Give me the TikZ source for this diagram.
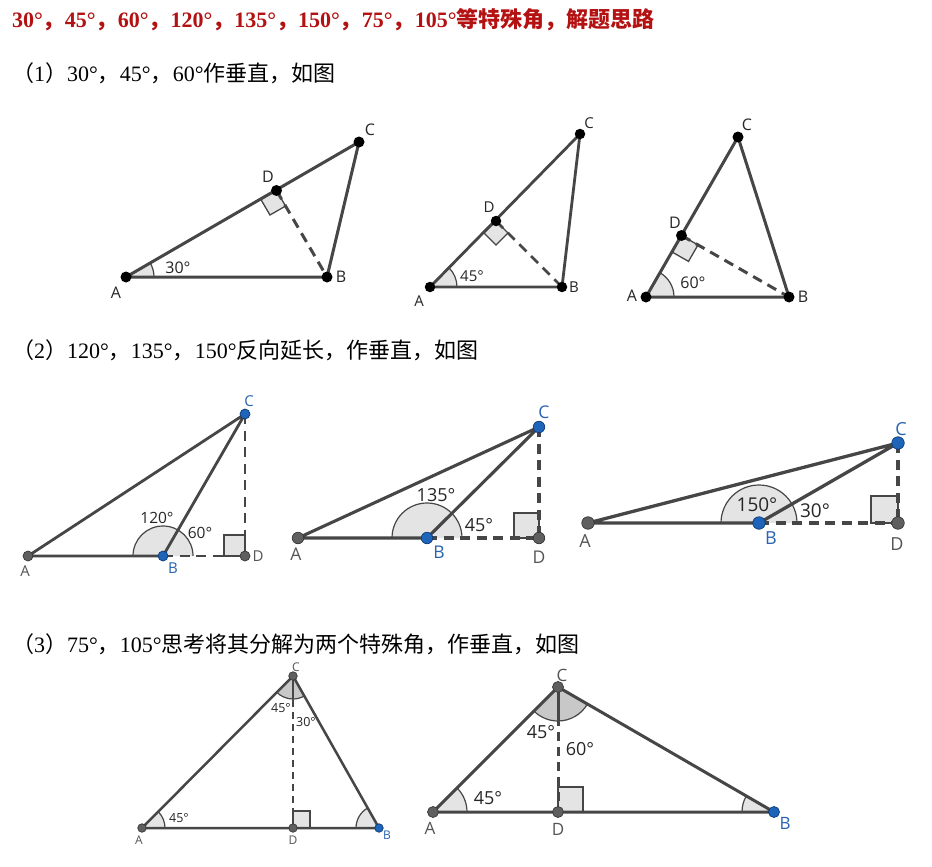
\documentclass[tikz,border=0pt]{standalone}
\usepackage{fontspec}
\setmainfont{Liberation Serif}
\newfontfamily\cjk{Noto Sans CJK SC}
\newfontfamily\labfont{Open Sans}
\usetikzlibrary{angles,calc}
\definecolor{ln}{RGB}{70,70,70}
\definecolor{afill}{RGB}{228,228,228}
\definecolor{afillc}{RGB}{200,200,200}
\definecolor{ptblue}{RGB}{30,100,185}
\definecolor{ptbluedk}{RGB}{15,60,120}
\definecolor{ptgray}{RGB}{95,95,95}
\definecolor{ptgraydk}{RGB}{55,55,55}
\definecolor{labgray}{RGB}{85,85,85}
\definecolor{labblue}{RGB}{40,100,175}
\definecolor{ttlred}{RGB}{180,18,18}
\newcommand\zh[1]{{\cjk #1}}
\newcommand\rsq[5]{%
  \coordinate (#1-u) at ($(#1)!#4!(#2)$);
  \coordinate (#1-v) at ($(#1)!#4!(#3)$);
  \draw[sq, line width=#5] (#1) -- (#1-u) -- ($(#1-u)+(#1-v)-(#1)$) -- (#1-v) -- cycle;}
\begin{document}
\begin{tikzpicture}[x=1pt, y=-1pt,
  seg/.style={draw=ln, line width=#1, line cap=round, line join=round},
  seg/.default=3pt,
  dsh/.style={draw=ln, line width=#1, dash pattern=on 10pt off 6.5pt},
  dsh/.default=3pt,
  ang/.style={draw=ln, fill=afill, line width=1.2pt},
  sq/.style={draw=ln, fill=afill},
  dk/.style={circle, fill=black, inner sep=0pt, minimum size=#1},
  dk/.default=11pt,
  dg/.style={circle, fill=ptgray, draw=ptgraydk, line width=0.7pt, inner sep=0pt, minimum size=#1},
  db/.style={circle, fill=ptblue, draw=ptbluedk, line width=0.7pt, inner sep=0pt, minimum size=#1},
  lab/.style={font=\labfont\fontsize{#1}{#1}\selectfont, inner sep=0pt, text=black!85},
  txt/.style={anchor=west, inner sep=0pt, font=\fontsize{22}{24}\selectfont},
]
\fill[white] (0,0) rectangle (932,867);
\useasboundingbox (0,0) rectangle (932,867);

% ---------- texts ----------
\node[txt, text=ttlred, font=\bfseries\fontsize{22}{24}\selectfont] (title) at (12,20)
  {30°\zh{，}45°\zh{，}60°\zh{，}120°\zh{，}135°\zh{，}150°\zh{，}75°\zh{，}105°\zh{\bfseries 等特殊角，解题思路}};
\node[txt] (h1) at (12,73) {\zh{（}1\zh{）}30°\zh{，}45°\zh{，}60°\zh{作垂直，如图}};
\node[txt] (h2) at (12,350) {\zh{（}2\zh{）}120°\zh{，}135°\zh{，}150°\zh{反向延长，作垂直，如图}};
\node[txt] (h3) at (12,644) {\zh{（}3\zh{）}75°\zh{，}105°\zh{思考将其分解为两个特殊角，作垂直，如图}};

% ---------- row 1, fig 1 (30) ----------
\coordinate (p1A) at (126,277);
\coordinate (p1B) at (327,277);
\coordinate (p1C) at (359,142);
\coordinate (p1D) at (276.5,190.5);
\pic[ang, angle radius=28pt] {angle=p1B--p1A--p1C};
\rsq{p1D}{p1A}{p1B}{18pt}{1.3pt}
\draw[seg] (p1A) -- (p1B) -- (p1C) -- cycle;
\draw[dsh] (p1D) -- (p1B);
\node[dk] (d1A) at (p1A) {};
\node[dk] (d1B) at (p1B) {};
\node[dk] (d1C) at (p1C) {};
\node[dk] (d1D) at (p1D) {};
\node[lab=16] (l1A) at (116,293) {A};
\node[lab=16] (l1B) at (341,277) {B};
\node[lab=16] (l1C) at (370,130) {C};
\node[lab=16] (l1D) at (268,177) {D};
\node[lab=16] (l1a) at (178,268) {30°};

% ---------- row 1, fig 2 (45) ----------
\coordinate (p2A) at (430,287);
\coordinate (p2B) at (562,287);
\coordinate (p2C) at (580,134);
\coordinate (p2D) at (496,221);
\pic[ang, angle radius=27pt] {angle=p2B--p2A--p2C};
\rsq{p2D}{p2A}{p2B}{17pt}{1.3pt}
\draw[seg=2.8pt] (p2A) -- (p2B) -- (p2C) -- cycle;
\draw[dsh=2.8pt] (p2D) -- (p2B);
\node[dk=10.5pt] (d2A) at (p2A) {};
\node[dk=10.5pt] (d2B) at (p2B) {};
\node[dk=10.5pt] (d2C) at (p2C) {};
\node[dk=10.5pt] (d2D) at (p2D) {};
\node[lab=15] (l2A) at (419,301) {A};
\node[lab=15] (l2B) at (574,287) {B};
\node[lab=15] (l2C) at (589,123) {C};
\node[lab=15] (l2D) at (489,207) {D};
\node[lab=15] (l2a) at (472,276) {45°};

% ---------- row 1, fig 3 (60) ----------
\coordinate (p3A) at (646,297);
\coordinate (p3B) at (789,297);
\coordinate (p3C) at (738,137);
\coordinate (p3D) at (681.5,235.5);
\pic[ang, angle radius=28pt] {angle=p3B--p3A--p3C};
\rsq{p3D}{p3A}{p3B}{19pt}{1.3pt}
\draw[seg] (p3A) -- (p3B) -- (p3C) -- cycle;
\draw[dsh] (p3D) -- (p3B);
\node[dk] (d3A) at (p3A) {};
\node[dk] (d3B) at (p3B) {};
\node[dk] (d3C) at (p3C) {};
\node[dk] (d3D) at (p3D) {};
\node[lab=16] (l3A) at (632,296) {A};
\node[lab=16] (l3B) at (803,297) {B};
\node[lab=16] (l3C) at (747,125) {C};
\node[lab=16] (l3D) at (675,223) {D};
\node[lab=16] (l3a) at (693,283) {60°};

% ---------- row 2, fig 1 (120) ----------
\coordinate (p4A) at (28,556);
\coordinate (p4B) at (163,556);
\coordinate (p4C) at (245,414);
\coordinate (p4D) at (245,556);
\pic[ang, angle radius=30pt] {angle=p4D--p4B--p4A};
\rsq{p4D}{p4B}{p4C}{21pt}{1.3pt}
\draw[dsh=2.8pt] (p4B) -- (p4D);
\draw[dsh=2.8pt] (p4C) -- (p4D);
\draw[seg=2.8pt] (p4A) -- (p4B) -- (p4C) -- cycle;
\node[dg=10pt] (d4A) at (p4A) {};
\node[db=10pt] (d4B) at (p4B) {};
\node[db=10pt] (d4C) at (p4C) {};
\node[dg=10pt] (d4D) at (p4D) {};
\node[lab=15, text=labgray] (l4A) at (25,571) {A};
\node[lab=15, text=labblue] (l4B) at (173,568) {B};
\node[lab=15, text=labblue] (l4C) at (249,401) {C};
\node[lab=15, text=labgray] (l4D) at (258,556) {D};
\node[lab=15.5] (l4a) at (157,518) {120°};
\node[lab=15.5] (l4b) at (200,533) {60°};

% ---------- row 2, fig 2 (135) ----------
\coordinate (p5A) at (298,538);
\coordinate (p5B) at (427,538);
\coordinate (p5C) at (539,427);
\coordinate (p5D) at (539,538);
\pic[ang, angle radius=35pt] {angle=p5D--p5B--p5A};
\rsq{p5D}{p5B}{p5C}{25pt}{1.4pt}
\draw[dsh=3.1pt] (p5B) -- (p5D);
\draw[dsh=3.1pt] (p5C) -- (p5D);
\draw[seg=3.1pt] (p5A) -- (p5B) -- (p5C) -- cycle;
\node[dg=11.5pt] (d5A) at (p5A) {};
\node[db=11.5pt] (d5B) at (p5B) {};
\node[db=11.5pt] (d5C) at (p5C) {};
\node[dg=11.5pt] (d5D) at (p5D) {};
\node[lab=17.5, text=labgray] (l5A) at (296,554) {A};
\node[lab=17.5, text=labblue] (l5B) at (439,552) {B};
\node[lab=17.5, text=labblue] (l5C) at (544,412) {C};
\node[lab=17.5, text=labgray] (l5D) at (539,557) {D};
\node[lab=18] (l5a) at (436,495) {135°};
\node[lab=18] (l5b) at (479,525) {45°};

% ---------- row 2, fig 3 (150) ----------
\coordinate (p6A) at (588,523);
\coordinate (p6B) at (759,523);
\coordinate (p6C) at (898,443);
\coordinate (p6D) at (898,523);
\pic[ang, angle radius=38pt] {angle=p6D--p6B--p6A};
\rsq{p6D}{p6B}{p6C}{27pt}{1.5pt}
\draw[dsh=3.3pt] (p6B) -- (p6D);
\draw[dsh=3.3pt] (p6C) -- (p6D);
\draw[seg=3.3pt] (p6A) -- (p6B) -- (p6C) -- cycle;
\node[dg=12.5pt] (d6A) at (p6A) {};
\node[db=12.5pt] (d6B) at (p6B) {};
\node[db=12.5pt] (d6C) at (p6C) {};
\node[dg=12.5pt] (d6D) at (p6D) {};
\node[lab=18, text=labgray] (l6A) at (585,541) {A};
\node[lab=18, text=labblue] (l6B) at (771,538) {B};
\node[lab=18, text=labblue] (l6C) at (901,429) {C};
\node[lab=18, text=labgray] (l6D) at (897,544) {D};
\node[lab=19] (l6a) at (757,505) {150°};
\node[lab=19] (l6b) at (815,511) {30°};

% ---------- row 3, fig 1 (75) ----------
\coordinate (p7A) at (142,828);
\coordinate (p7B) at (379,828);
\coordinate (p7C) at (293,676);
\coordinate (p7D) at (293,828);
\pic[ang, angle radius=23pt] {angle=p7D--p7A--p7C};
\pic[ang, angle radius=23pt] {angle=p7C--p7B--p7A};
\pic[ang, fill=afillc, angle radius=23pt] {angle=p7A--p7C--p7D};
\pic[ang, fill=afillc, angle radius=23pt] {angle=p7D--p7C--p7B};
\rsq{p7D}{p7B}{p7C}{17pt}{1.1pt}
\draw[dsh=2.5pt, dash pattern=on 7pt off 5pt] (p7C) -- (p7D);
\draw[seg=2.5pt] (p7C) -- ($(p7C)!23pt!(p7D)$);
\draw[seg=2.5pt] (p7A) -- (p7B) -- (p7C) -- cycle;
\node[dg=8.5pt] (d7A) at (p7A) {};
\node[db=8.5pt] (d7B) at (p7B) {};
\node[dg=8.5pt] (d7C) at (p7C) {};
\node[dg=8.5pt] (d7D) at (p7D) {};
\node[lab=12, text=labgray] (l7A) at (139,840) {A};
\node[lab=12, text=labblue] (l7B) at (387,835) {B};
\node[lab=12, text=labgray] (l7C) at (296,667) {C};
\node[lab=12, text=labgray] (l7D) at (293,840) {D};
\node[lab=12.5] (l7a) at (179,818) {45°};
\node[lab=12.5] (l7b) at (281,708) {45°};
\node[lab=12.5] (l7c) at (306,722) {30°};

% ---------- row 3, fig 2 (105) ----------
\coordinate (p8A) at (433,812);
\coordinate (p8B) at (774,812);
\coordinate (p8C) at (558,687);
\coordinate (p8D) at (558,812);
\pic[ang, angle radius=34pt] {angle=p8D--p8A--p8C};
\pic[ang, angle radius=32pt] {angle=p8C--p8B--p8A};
\pic[ang, fill=afillc, angle radius=34pt] {angle=p8A--p8C--p8D};
\pic[ang, fill=afillc, angle radius=34pt] {angle=p8D--p8C--p8B};
\rsq{p8D}{p8B}{p8C}{25pt}{1.4pt}
\draw[dsh=3pt, dash pattern=on 9pt off 6pt] (p8C) -- (p8D);
\draw[seg=3pt] (p8C) -- ($(p8C)!34pt!(p8D)$);
\draw[seg=3pt] (p8A) -- (p8B) -- (p8C) -- cycle;
\node[dg=11pt] (d8A) at (p8A) {};
\node[db=11pt] (d8B) at (p8B) {};
\node[dg=11pt] (d8C) at (p8C) {};
\node[dg=11pt] (d8D) at (p8D) {};
\node[lab=17, text=labgray] (l8A) at (430,828) {A};
\node[lab=17, text=labblue] (l8B) at (785,823) {B};
\node[lab=17, text=labgray] (l8C) at (562,675) {C};
\node[lab=17, text=labgray] (l8D) at (558,829) {D};
\node[lab=18] (l8a) at (488,798) {45°};
\node[lab=18] (l8b) at (541,732) {45°};
\node[lab=18] (l8c) at (580,749) {60°};
\end{tikzpicture}
\end{document}
